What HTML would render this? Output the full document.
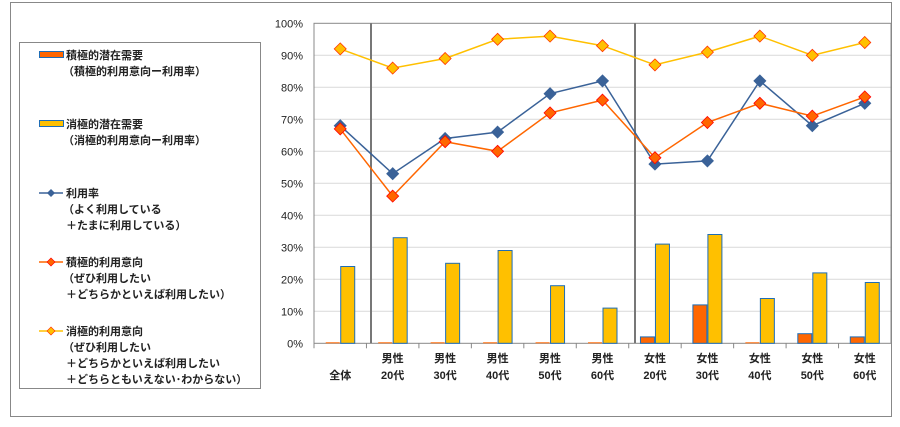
<!DOCTYPE html>
<html><head><meta charset="utf-8"><style>
body{margin:0;background:#fff;}
svg text{font-family:"Liberation Sans","Noto Sans CJK JP",sans-serif;}
</style></head><body>
<svg width="900" height="422" xmlns="http://www.w3.org/2000/svg">
<rect x="10.5" y="2.5" width="881" height="414" fill="#fff" stroke="#888"/>
<g id="grid"></g>
<g id="yax"></g>
<g id="bars"></g>
<g id="lines"></g>
<g id="xax"></g>
<g font-size="11" font-weight="bold" fill="#222">
<rect x="19.5" y="42.5" width="241" height="346" fill="#fff" stroke="#888"/>
<g>
<rect x="39.5" y="51.5" width="24" height="6" fill="#FF6600" stroke="#1f6db5"/>
<text x="66" y="59">積極的潜在需要</text><text x="63" y="75">（積極的利用意向ー利用率）</text></g>
<g>
<rect x="39.5" y="120.5" width="24" height="6" fill="#FFC000" stroke="#1f6db5"/>
<text x="66" y="128">消極的潜在需要</text><text x="63" y="144">（消極的利用意向ー利用率）</text></g>
<g>
<line x1="39" y1="193" x2="63" y2="193" stroke="#3A6298" stroke-width="1.5"/><path d="M51 189l4 4-4 4-4-4z" fill="#3A6298"/>
<text x="66" y="197">利用率</text><text x="63" y="213">（よく利用している</text><text x="66" y="229">＋たまに利用している）</text></g>
<g>
<line x1="39" y1="262" x2="63" y2="262" stroke="#FF6600" stroke-width="1.5"/><path d="M51 258l4 4-4 4-4-4z" fill="#FF6600" stroke="#f00" stroke-width="0.7"/>
<text x="66" y="266">積極的利用意向</text><text x="63" y="282">（ぜひ利用したい</text><text x="66" y="298">＋どちらかといえば利用したい）</text></g>
<g>
<line x1="39" y1="331" x2="63" y2="331" stroke="#FFC000" stroke-width="1.5"/><path d="M51 327l4 4-4 4-4-4z" fill="#FFC000" stroke="#f30" stroke-width="0.7"/>
<text x="66" y="335">消極的利用意向</text><text x="63" y="351">（ぜひ利用したい</text><text x="66" y="367">＋どちらかといえば利用したい</text><text x="66" y="383">＋どちらともいえない･わからない）</text></g>
</g>
</svg>
<script>
const categoriesTop = ["", "男性","男性","男性","男性","男性","女性","女性","女性","女性","女性"];
const categoriesBottom = ["全体","20代","30代","40代","50代","60代","20代","30代","40代","50代","60代"];
const usageRate = [68,53,64,66,78,82,56,57,82,68,75];
const activeIntent = [67,46,63,60,72,76,58,69,75,71,77];
const passiveIntent = [92,86,89,95,96,93,87,91,96,90,94];
const activeDemand = [0,0,0,0,0,0,2,12,0,3,2];
const passiveDemand = [24,33,25,29,18,11,31,34,14,22,19];
const yTicks = [0,10,20,30,40,50,60,70,80,90,100];

const NS="http://www.w3.org/2000/svg";
const L=314,R=891,T=23.3,B=343.3,n=categoriesBottom.length,step=(R-L)/n;
const xc=i=>L+step*(i+0.5);
const yv=v=>B-(B-T)*v/100;
function mk(p,tag,attrs){const e=document.createElementNS(NS,tag);for(const k in attrs)e.setAttribute(k,attrs[k]);p.appendChild(e);return e;}
const grid=document.getElementById('grid'),yax=document.getElementById('yax'),bars=document.getElementById('bars'),lines=document.getElementById('lines'),xax=document.getElementById('xax');
yTicks.forEach(t=>{
  if(t>0&&t<100){const g=mk(grid,'line',{x1:L,x2:R,y1:yv(t),y2:yv(t),stroke:'#d9d9d9'});
  
  }
  const tx=mk(yax,'text',{x:303,y:yv(t)+4,'text-anchor':'end','font-size':11,fill:'#222'});tx.textContent=t+'%';
  
  
});
mk(grid,'rect',{x:L,y:T,width:R-L,height:B-T,fill:'none',stroke:'#888'});
mk(grid,'line',{x1:371,x2:371,y1:T,y2:B,stroke:'#777','stroke-width':2});
mk(grid,'line',{x1:635,x2:635,y1:T,y2:B,stroke:'#777','stroke-width':2});
for(let i=0;i<n;i++){
  const c=xc(i);
  const h1=Math.max(B-yv(activeDemand[i]),1);
  const b1=mk(bars,'rect',{x:c-14.5,y:B-h1,width:14,height:h1,fill:'#FF6600',stroke:'#1f6db5','stroke-width':activeDemand[i]>0?1:0});
  
  
  const h2=B-yv(passiveDemand[i]);
  const b2=mk(bars,'rect',{x:c+0.5,y:B-h2,width:14,height:h2,fill:'#FFC000',stroke:'#1f6db5','stroke-width':1});
  
  
  mk(xax,'line',{x1:L+step*i,x2:L+step*i,y1:B,y2:B+5,stroke:'#888'});
  const t1=mk(xax,'text',{x:c,y:362,'text-anchor':'middle','font-size':11,'font-weight':'bold',fill:'#222'});t1.textContent=categoriesTop[i];
  
  
  const t2=mk(xax,'text',{x:c,y:379,'text-anchor':'middle','font-size':11,'font-weight':'bold',fill:'#222'});t2.textContent=categoriesBottom[i];
  
  
}
function series(arr,color,fill,stroke,name){
  const pts=arr.map((v,i)=>xc(i)+','+yv(v)).join(' ');
  const pl=mk(lines,'polyline',{points:pts,fill:'none',stroke:color,'stroke-width':1.5});
  
  
  arr.forEach((v,i)=>{const x=xc(i),y=yv(v);
    const m=mk(lines,'path',{d:`M${x} ${y-6}l6 6-6 6-6-6z`,fill:fill,stroke:stroke,'stroke-width':0.8});
    
    });
}
series(usageRate,'#3A6298','#3A6298','#3A6298','usage-rate');
series(activeIntent,'#FF6600','#FF6600','#FF0000','active-intent');
series(passiveIntent,'#FFC000','#FFC000','#FF3300','passive-intent');
</script>
</body></html>
